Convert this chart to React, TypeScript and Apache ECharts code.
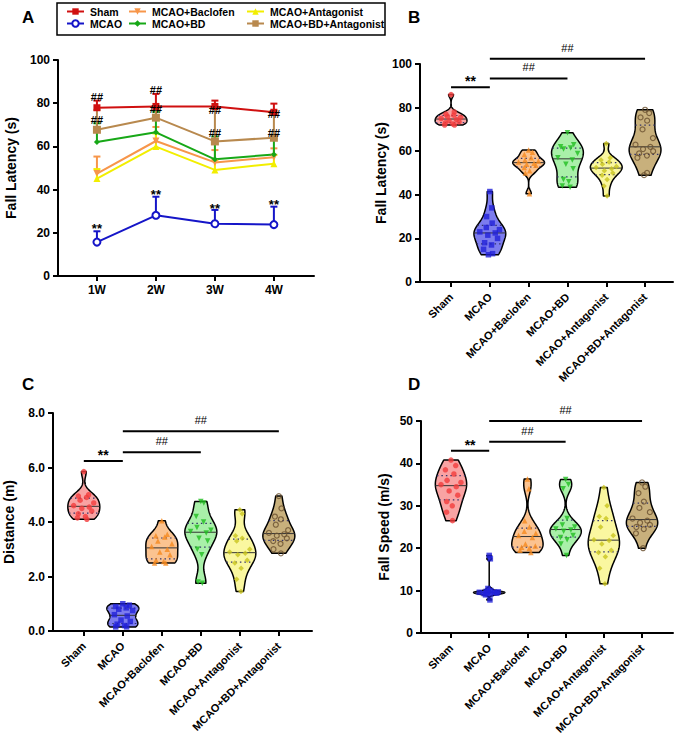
import React, { useEffect, useRef } from 'react';
import * as echarts from 'echarts';

const FONT = '"Liberation Sans", Arial, Helvetica, sans-serif';

const GROUPS = ['Sham', 'MCAO', 'MCAO+Baclofen', 'MCAO+BD', 'MCAO+Antagonist', 'MCAO+BD+Antagonist'];
const WEEKS = [1, 2, 3, 4];
const WEEK_LABELS = ['1W', '2W', '3W', '4W'];

// Panel A: mean and upper end of error bar per week
const A_SHAM_MEAN = [77.9, 78.5, 78.5, 75.8];
const A_SHAM_UP = [81.2, 84.3, 81.2, 79.8];
const A_MCAO_MEAN = [15.7, 28.1, 24.2, 23.8];
const A_MCAO_UP = [20.7, 36.7, 30.6, 32.1];
const A_BAC_MEAN = [47.4, 62.5, 52.6, 55.0];
const A_BAC_UP = [55.3, 69.0, 58.3, 59.1];
const A_BD_MEAN = [62.0, 66.5, 54.0, 56.3];
const A_BD_UP = [70.7, 76.0, 64.6, 63.7];
const A_ANT_MEAN = [45.1, 59.9, 49.1, 52.0];
const A_ANT_UP = [49.5, 66.0, 53.7, 56.0];
const A_BDA_MEAN = [67.7, 73.3, 62.3, 64.0];
const A_BDA_UP = [76.9, 78.5, 78.0, 75.0];

// Panel A significance marks: [week, value, text]
const A_MARKS: [number, number, string][] = [
  [1, 83.0, '##'], [1, 72.2, '##'], [1, 21.8, '**'],
  [2, 86.1, '##'], [2, 77.3, '##'], [2, 37.6, '**'],
  [3, 76.9, '##'], [3, 66.4, '##'], [3, 31.1, '**'],
  [4, 75.0, '##'], [4, 66.4, '##'], [4, 32.9, '**'],
];

// Panel B: Fall latency (s) individual values
const B_SHAM = [86, 78, 77, 76.5, 76, 75.5, 75, 74.5, 74, 73.5, 73, 72.5, 72, 72];
const B_MCAO = [41.5, 34, 30, 27, 25, 24, 23, 22.5, 21.5, 20, 18, 17, 15, 13, 12.5];
const B_BAC = [60.5, 59.5, 58.5, 57, 56, 55.5, 55, 54.5, 54, 53.5, 52.5, 51, 50, 40.5];
const B_BD = [68.5, 63, 62, 61.5, 61, 59, 57, 56, 54, 52, 47, 46, 44, 43.5];
const B_ANT = [63.5, 57, 56, 55, 54, 53, 52.5, 52, 51, 50, 49, 47, 44, 39.5];
const B_BDA = [79, 77.5, 75.5, 74, 70, 66, 63, 62, 61, 60, 59, 58, 57, 50, 49];

// Panel C: Distance (m)
const C_SHAM = [5.85, 5.0, 4.95, 4.9, 4.8, 4.7, 4.6, 4.55, 4.5, 4.4, 4.3, 4.2, 4.15, 4.1];
const C_MCAO = [1.0, 0.95, 0.9, 0.85, 0.8, 0.75, 0.6, 0.55, 0.4, 0.35, 0.25, 0.2, 0.15, 0.15];
const C_BAC = [4.05, 3.55, 3.5, 3.45, 3.3, 3.2, 3.1, 3.0, 2.9, 2.8, 2.6, 2.55, 2.5, 2.5];
const C_BD = [4.75, 4.7, 4.2, 4.0, 3.8, 3.7, 3.65, 3.6, 3.4, 3.3, 3.0, 2.8, 1.8, 1.75];
const C_ANT = [4.45, 4.3, 3.5, 3.4, 3.3, 3.0, 2.9, 2.85, 2.8, 2.6, 2.5, 2.3, 1.9, 1.45];
const C_BDA = [4.95, 4.5, 4.2, 4.1, 3.9, 3.7, 3.6, 3.55, 3.5, 3.4, 3.3, 3.2, 3.0, 2.85];

// Panel D: Fall speed (m/s)
const D_SHAM = [40.8, 39.5, 38.5, 37.5, 36, 35.5, 35, 34.5, 33.5, 32.5, 31, 30, 28.5, 26.5];
const D_MCAO = [18.3, 17.5, 10.5, 10, 9.8, 9.7, 9.6, 9.6, 9.5, 9.4, 9.3, 9.2, 9.0, 7.8];
const D_BAC = [36.3, 34, 26.5, 25, 24, 23.5, 23, 22.5, 21, 20.5, 20.2, 20, 19.5, 19];
const D_BD = [36.2, 35, 34, 27, 25.5, 25, 24.5, 24.3, 24, 23, 22.5, 22, 21, 18.3];
const D_ANT = [34.3, 30, 27.5, 27, 25, 23, 22, 21.8, 21, 19.5, 19, 18, 15.3, 11.6];
const D_BDA = [35.5, 34.5, 33, 31, 29.5, 28.5, 27, 26.5, 26, 25.5, 25, 24.5, 23.5, 20];

// Significance brackets: [fromGroup, toGroup, value, text]
const B_SIG: [number, number, number, string][] = [[0, 1, 89.3, '**'], [1, 3, 93.4, '##'], [1, 5, 102.4, '##']];
const C_SIG: [number, number, number, string][] = [[0, 1, 6.24, '**'], [1, 3, 6.56, '##'], [1, 5, 7.33, '##']];
const D_SIG: [number, number, number, string][] = [[0, 1, 43.0, '**'], [1, 3, 45.1, '##'], [1, 5, 50.0, '##']];

const LINE_COLORS = ['#D01010', '#1515C8', '#F7964A', '#17A817', '#F2EE00', '#B8894E'];
const VIOLIN_FILL = ['#F9A3A3', '#7C7CEE', '#FBC390', '#A9F0A9', '#FAF7A0', '#C8B07C'];
const POINT_COLORS = ['#F23C3C', '#2020D8', '#F68A1E', '#20BE20', '#C9C41E', '#6A5030'];
const POINT_SYMBOLS = ['circle', 'rect', 'triangle', 'triangle', 'diamond', 'circle'];
const POINT_ROT = [0, 0, 0, 180, 0, 0];

const A_SYMBOLS = ['rect', 'emptyCircle', 'triangle', 'diamond', 'triangle', 'rect'];
const A_SYM_ROT = [0, 0, 180, 0, 0, 0];
const A_SYM_SIZE = [7, 7, 7, 6, 7, 8];

const HW = 0.41;
const JITTER = [0, 0.55, -0.55, 0.25, -0.3, 0.75, -0.75, 0.4, -0.15, 0.6, -0.45, 0.15, -0.65, 0.35, -0.2];

function quantile(sorted: number[], q: number) {
  const pos = (sorted.length - 1) * q;
  const lo = Math.floor(pos);
  const hi = Math.ceil(pos);
  return sorted[lo] + (sorted[hi] - sorted[lo]) * (pos - lo);
}

function makeProfile(vals: number[]) {
  const n = vals.length;
  const sorted = [...vals].sort((a, b) => a - b);
  const mean = vals.reduce((a, b) => a + b, 0) / n;
  const sd = Math.sqrt(vals.reduce((a, b) => a + (b - mean) ** 2, 0) / (n - 1));
  const q1 = quantile(sorted, 0.25);
  const q3 = quantile(sorted, 0.75);
  const med = quantile(sorted, 0.5);
  const spread = Math.min(sd, (q3 - q1) / 1.34) || sd;
  const h = 1.0 * 0.9 * spread * Math.pow(n, -0.2);
  const lo = sorted[0];
  const hi = sorted[n - 1];
  const raw = (y: number) => {
    let d = 0;
    for (const v of vals) d += Math.exp(-0.5 * ((y - v) / h) ** 2);
    return d;
  };
  const steps = 90;
  const grid: [number, number][] = [];
  let mx = 0;
  for (let i = 0; i <= steps; i++) {
    const y = lo + ((hi - lo) * i) / steps;
    const d = raw(y);
    mx = Math.max(mx, d);
    grid.push([y, d]);
  }
  return {
    grid: grid.map(([y, d]) => [y, d / mx] as [number, number]),
    dens: (y: number) => raw(y) / mx,
    q1, q3, med, sorted,
  };
}

function textEl(x: number, y: number, text: string, font: string) {
  return {
    type: 'text',
    x, y,
    style: {
      text, font, fill: '#000',
      align: 'center', verticalAlign: 'middle',
      textAlign: 'center', textVerticalAlign: 'middle',
    },
  };
}

function violinSeries(gi: number, datasets: number[][]) {
  const profiles = datasets.map(makeProfile);
  const series: any[] = [];
  series.push({
    type: 'custom',
    name: 'violin-' + gi,
    xAxisIndex: gi, yAxisIndex: gi,
    z: 2,
    data: datasets.map((_, i) => [i, profiles[i].med]),
    encode: { x: 0, y: 1 },
    renderItem: (_p: any, api: any) => {
      const i = api.value(0);
      const pr = profiles[i];
      const pts: number[][] = [];
      for (const [y, d] of pr.grid) pts.push(api.coord([i + d * HW, y]));
      for (let k = pr.grid.length - 1; k >= 0; k--) {
        const [y, d] = pr.grid[k];
        pts.push(api.coord([i - d * HW, y]));
      }
      const hl = (y: number, dash: boolean) => {
        const d = pr.dens(y);
        const a = api.coord([i - d * HW, y]);
        const b = api.coord([i + d * HW, y]);
        return {
          type: 'line',
          shape: { x1: a[0], y1: a[1], x2: b[0], y2: b[1] },
          style: dash
            ? { stroke: '#33336a', lineWidth: 1.2, lineDash: [1.5, 3] }
            : { stroke: '#333', lineWidth: 1 },
        };
      };
      return {
        type: 'group',
        children: [
          {
            type: 'polygon',
            shape: { points: pts },
            style: { fill: VIOLIN_FILL[i], stroke: '#000', lineWidth: 1.5, lineJoin: 'round' },
          },
          hl(pr.q1, true),
          hl(pr.q3, true),
          hl(pr.med, false),
        ],
      };
    },
  });
  datasets.forEach((vals, i) => {
    const pr = profiles[i];
    const sorted = [...vals].sort((a, b) => b - a);
    series.push({
      type: 'scatter',
      name: 'pts-' + gi + '-' + i,
      xAxisIndex: gi, yAxisIndex: gi,
      z: 3,
      symbol: POINT_SYMBOLS[i],
      symbolRotate: POINT_ROT[i],
      symbolSize: i === 5 ? 5 : 5.5,
      itemStyle: i === 5
        ? { color: 'rgba(0,0,0,0)', borderColor: POINT_COLORS[i], borderWidth: 1.2 }
        : { color: POINT_COLORS[i] },
      data: sorted.map((v, k) => [i + JITTER[k % JITTER.length] * pr.dens(v) * HW * 0.85, v]),
    });
  });
  return series;
}

function sigSeries(gi: number, sig: [number, number, number, string][]) {
  return {
    type: 'custom',
    name: 'sig-' + gi,
    xAxisIndex: gi, yAxisIndex: gi,
    z: 4,
    clip: false,
    data: sig.map((s) => [s[0], s[1], s[2]]),
    encode: { x: [0, 1], y: 2 },
    renderItem: (p: any, api: any) => {
      const s = sig[p.dataIndex];
      const a = api.coord([s[0], s[2]]);
      const b = api.coord([s[1], s[2]]);
      const isStar = s[3] === '**';
      return {
        type: 'group',
        children: [
          { type: 'line', shape: { x1: a[0], y1: a[1], x2: b[0], y2: b[1] }, style: { stroke: '#000', lineWidth: 2 } },
          textEl((a[0] + b[0]) / 2, a[1] - (isStar ? 6 : 11), s[3], isStar ? 'bold 14px ' + FONT : '11px ' + FONT),
        ],
      };
    },
  };
}

const axisLineStyle = { show: true, onZero: false, lineStyle: { color: '#000', width: 2 } };
const axisTickStyle = { show: true, inside: false, length: 5, lineStyle: { color: '#000', width: 2 } };
const labelBase = { color: '#000', fontWeight: 'bold', fontSize: 12, fontFamily: FONT };

function groupXAxis(gi: number, min: number, max: number) {
  return {
    type: 'value', gridIndex: gi, min, max,
    axisLine: axisLineStyle,
    axisTick: { ...axisTickStyle, customValues: [0, 1, 2, 3, 4, 5] },
    splitLine: { show: false },
    axisLabel: {
      ...labelBase, fontSize: 11, rotate: 45, margin: 13,
      customValues: [0, 1, 2, 3, 4, 5],
      formatter: (v: number) => GROUPS[Math.round(v)] ?? '',
    },
  };
}

function yAxis(gi: number, max: number, interval: number, name: string, nameGap: number, fmt?: (v: number) => string) {
  return {
    type: 'value', gridIndex: gi, min: 0, max, interval,
    axisLine: axisLineStyle,
    axisTick: axisTickStyle,
    splitLine: { show: false },
    axisLabel: { ...labelBase, margin: 8, ...(fmt ? { formatter: fmt } : {}) },
    name, nameLocation: 'middle', nameGap,
    nameTextStyle: { color: '#000', fontWeight: 'bold', fontSize: 14, fontFamily: FONT },
  };
}

function buildOption() {
  const aMeans = [A_SHAM_MEAN, A_MCAO_MEAN, A_BAC_MEAN, A_BD_MEAN, A_ANT_MEAN, A_BDA_MEAN];
  const aUps = [A_SHAM_UP, A_MCAO_UP, A_BAC_UP, A_BD_UP, A_ANT_UP, A_BDA_UP];

  const series: any[] = [];
  GROUPS.forEach((g, i) => {
    const color = LINE_COLORS[i];
    series.push({
      type: 'custom',
      name: g + '-err',
      xAxisIndex: 0, yAxisIndex: 0,
      z: 1,
      data: WEEKS.map((w, k) => [w, aMeans[i][k], aUps[i][k]]),
      encode: { x: 0, y: [1, 2] },
      renderItem: (_p: any, api: any) => {
        const x = api.value(0);
        const a = api.coord([x, api.value(1)]);
        const b = api.coord([x, api.value(2)]);
        return {
          type: 'group',
          children: [
            { type: 'line', shape: { x1: a[0], y1: a[1], x2: b[0], y2: b[1] }, style: { stroke: color, lineWidth: 2 } },
            { type: 'line', shape: { x1: b[0] - 3.5, y1: b[1], x2: b[0] + 3.5, y2: b[1] }, style: { stroke: color, lineWidth: 2 } },
          ],
        };
      },
    });
  });
  GROUPS.forEach((g, i) => {
    series.push({
      type: 'line',
      name: g,
      xAxisIndex: 0, yAxisIndex: 0,
      z: 2,
      data: WEEKS.map((w, k) => [w, aMeans[i][k]]),
      symbol: A_SYMBOLS[i],
      symbolRotate: A_SYM_ROT[i],
      symbolSize: A_SYM_SIZE[i],
      showAllSymbol: true,
      color: LINE_COLORS[i],
      lineStyle: { color: LINE_COLORS[i], width: 2 },
      itemStyle: { color: LINE_COLORS[i], borderColor: LINE_COLORS[i], borderWidth: i === 1 ? 1.5 : 0 },
    });
  });
  series.push({
    type: 'custom',
    name: 'A-marks',
    xAxisIndex: 0, yAxisIndex: 0,
    z: 5,
    clip: false,
    data: A_MARKS.map((m) => [m[0], m[1]]),
    encode: { x: 0, y: 1 },
    renderItem: (p: any, api: any) => {
      const m = A_MARKS[p.dataIndex];
      const c = api.coord([m[0], m[1]]);
      return textEl(c[0], c[1], m[2], m[2] === '**' ? 'bold 13px ' + FONT : 'bold 11px ' + FONT);
    },
  });

  series.push(...violinSeries(1, [B_SHAM, B_MCAO, B_BAC, B_BD, B_ANT, B_BDA]));
  series.push(...violinSeries(2, [C_SHAM, C_MCAO, C_BAC, C_BD, C_ANT, C_BDA]));
  series.push(...violinSeries(3, [D_SHAM, D_MCAO, D_BAC, D_BD, D_ANT, D_BDA]));
  series.push(sigSeries(1, B_SIG), sigSeries(2, C_SIG), sigSeries(3, D_SIG));

  const slots: [number, number][] = [[66, 6], [66, 18], [128, 6], [128, 18], [246, 6], [246, 18]];
  const legend = GROUPS.map((g, i) => ({
    data: [g],
    left: slots[i][0],
    top: slots[i][1],
    padding: 0,
    itemWidth: 17,
    itemHeight: 8,
    selectedMode: false,
    textStyle: { color: '#000', fontSize: 10.5, fontWeight: 'bold', fontFamily: FONT, padding: [0, 0, 0, 1] },
  }));

  return {
    animation: false,
    backgroundColor: '#fff',
    legend,
    grid: [
      { left: 58, top: 60, width: 256, height: 216, outerBoundsMode: 'none' },
      { left: 420, top: 64, width: 253, height: 218, outerBoundsMode: 'none' },
      { left: 53, top: 413, width: 259, height: 218, outerBoundsMode: 'none' },
      { left: 421, top: 421, width: 252, height: 212, outerBoundsMode: 'none' },
    ],
    xAxis: [
      {
        type: 'value', gridIndex: 0, min: 0.34, max: 4.68,
        axisLine: axisLineStyle,
        axisTick: { ...axisTickStyle, customValues: WEEKS },
        splitLine: { show: false },
        axisLabel: {
          ...labelBase, margin: 8, customValues: WEEKS,
          formatter: (v: number) => WEEK_LABELS[Math.round(v) - 1] ?? '',
        },
      },
      groupXAxis(1, -0.8, 5.72),
      groupXAxis(2, -0.79, 5.85),
      groupXAxis(3, -0.785, 5.81),
    ],
    yAxis: [
      yAxis(0, 100, 20, 'Fall Latency (s)', 40),
      yAxis(1, 100, 20, 'Fall Latency (s)', 28),
      yAxis(2, 8, 2, 'Distance (m)', 37, (v: number) => v.toFixed(1)),
      yAxis(3, 50, 10, 'Fall Speed (m/s)', 30),
    ],
    graphic: [
      { type: 'rect', shape: { x: 57, y: 3, width: 328, height: 32 }, style: { fill: 'none', stroke: '#000', lineWidth: 1.5 } },
      { type: 'text', left: 22, top: 9, style: { text: 'A', font: 'bold 17px ' + FONT, fill: '#000' } },
      { type: 'text', left: 408, top: 9, style: { text: 'B', font: 'bold 17px ' + FONT, fill: '#000' } },
      { type: 'text', left: 22, top: 376, style: { text: 'C', font: 'bold 17px ' + FONT, fill: '#000' } },
      { type: 'text', left: 408, top: 376, style: { text: 'D', font: 'bold 17px ' + FONT, fill: '#000' } },
    ],
    series,
  };
}

export default function App() {
  const ref = useRef<HTMLDivElement>(null);
  useEffect(() => {
    const chart = echarts.init(ref.current!, null, { renderer: 'svg' });
    chart.setOption(buildOption() as any);
    return () => chart.dispose();
  }, []);
  return (
    <div
      ref={ref}
      style={{ position: 'fixed', left: 0, top: 0, width: 680, height: 742, background: '#fff' }}
    />
  );
}
